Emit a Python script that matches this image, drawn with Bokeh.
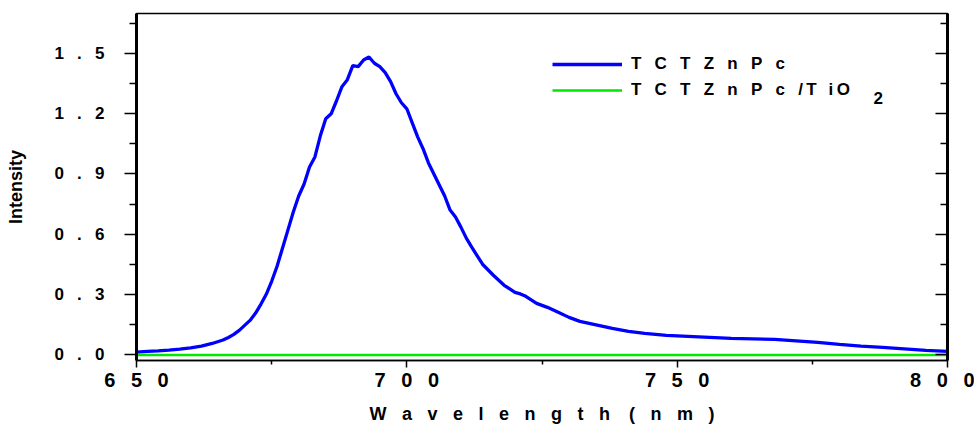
from bokeh.plotting import figure
from bokeh.models import Range1d, LinearAxis, FixedTicker, Legend, LegendItem, Label
from bokeh.core.properties import value
from bokeh.embed import file_html
from bokeh.resources import INLINE

# ---- data ----
wavelength = [650, 652, 654, 656, 658, 660, 662, 664, 666, 667, 668, 669, 670, 671,
              672, 673, 674, 675, 676, 677, 678, 679, 680, 681, 682, 683, 684, 685,
              686, 687, 688, 689, 690, 691, 692, 693, 694, 695, 696, 697, 698, 699,
              700, 701, 702, 703, 704, 705, 706, 707, 708, 709, 710, 711, 712, 714,
              716, 718, 720, 721, 722, 724, 726, 728, 730, 732, 735, 738, 741, 744,
              748, 752, 756, 760, 764, 768, 772, 776, 780, 784, 788, 792, 796, 800]
tctznpc = [0.012, 0.015, 0.018, 0.022, 0.027, 0.033, 0.042, 0.055, 0.072, 0.085, 0.10,
           0.12, 0.145, 0.17, 0.205, 0.25, 0.30, 0.365, 0.44, 0.53, 0.62, 0.71, 0.79,
           0.85, 0.935, 0.985, 1.09, 1.175, 1.20, 1.265, 1.335, 1.37, 1.44, 1.435,
           1.468, 1.483, 1.452, 1.435, 1.405, 1.36, 1.30, 1.255, 1.225, 1.155, 1.085,
           1.026, 0.955, 0.90, 0.845, 0.79, 0.72, 0.685, 0.635, 0.58, 0.535, 0.45,
           0.395, 0.345, 0.31, 0.302, 0.29, 0.255, 0.235, 0.21, 0.185, 0.165, 0.148,
           0.13, 0.115, 0.105, 0.095, 0.09, 0.085, 0.08, 0.078, 0.075, 0.068, 0.06,
           0.05, 0.042, 0.035, 0.028, 0.02, 0.015]

wavelength_tio2 = [650, 660, 670, 680, 690, 700, 710, 720, 730, 740, 750, 760, 770,
                   780, 790, 800]
tctznpc_tio2 = [-0.003, -0.003, -0.002, -0.003, -0.002, -0.002, -0.003, -0.002,
                -0.003, -0.003, -0.002, -0.003, -0.003, -0.002, -0.003, -0.003]

series_names = ["T C T Z n P c", "T C T Z n P c /", "T iO"]
subscript_text = "2"

x_ticks = [650, 700, 750, 800]
x_minor_ticks = [675, 725, 775]
x_tick_labels = ["6 5 0", "7 0 0", "7 5 0", "8 0 0"]
y_ticks = [0.0, 0.3, 0.6, 0.9, 1.2, 1.5]
y_minor_ticks = [0.15, 0.45, 0.75, 1.05, 1.35, 1.65]
y_tick_labels = ["0 . 0", "0 . 3", "0 . 6", "0 . 9", "1 . 2", "1 . 5"]
x_title = "W a v e l e n g t h  ( n m )"
y_title = "Intensity"

FONT = "Liberation Sans"
GAP = "\u2002 "               # ~0.78 em: mimics the letter-spaced labels
GAP_WIDE = "\u2002 \u200a"    # a little wider


def spaced(s, gap=GAP, wide=None):
    parts = s.split("  ")
    parts = [part.replace(" ", gap) for part in parts]
    return (wide or gap).join(parts)


p = figure(width=974, height=432,
           x_range=Range1d(650, 800), y_range=Range1d(-0.03, 1.70),
           output_backend="svg", toolbar_location=None,
           min_border_left=136, min_border_right=27,
           min_border_top=13, min_border_bottom=72)
p.xgrid.visible = False
p.ygrid.visible = False
p.outline_line_color = "black"
p.outline_line_width = 1.5
p.background_fill_color = "white"
p.border_fill_color = "white"

r_blue = p.line(wavelength, tctznpc, line_color="#0000ff", line_width=3.3)
r_green = p.line(wavelength_tio2, tctznpc_tio2, line_color="#00e800", line_width=2.5)

# bottom axis
xa = p.xaxis[0]
xa.ticker = FixedTicker(ticks=x_ticks, minor_ticks=x_minor_ticks)
xa.major_label_overrides = {t: spaced(l) for t, l in zip(x_ticks, x_tick_labels)}
xa.major_label_text_font = FONT
xa.major_label_text_font_style = "bold"
xa.major_label_text_font_size = "20px"
xa.major_label_text_color = "black"
xa.major_label_standoff = 1
xa.axis_line_width = 1.5
xa.axis_line_color = "black"
xa.major_tick_in = 0
xa.major_tick_out = 7
xa.minor_tick_in = 0
xa.minor_tick_out = 4
xa.major_tick_line_width = 1.5
xa.minor_tick_line_width = 1.5
xa.axis_label = spaced(x_title, GAP_WIDE, GAP_WIDE + "\u2009")
xa.axis_label_text_font = FONT
xa.axis_label_text_font_style = "bold"
xa.axis_label_text_font_size = "18px"
xa.axis_label_text_color = "black"
xa.axis_label_standoff = 10

# left axis
ya = p.yaxis[0]
ya.ticker = FixedTicker(ticks=y_ticks, minor_ticks=y_minor_ticks)
ya.major_label_overrides = {t: spaced(l) for t, l in zip(y_ticks, y_tick_labels)}
ya.major_label_text_font = FONT
ya.major_label_text_font_style = "bold"
ya.major_label_text_font_size = "17px"
ya.major_label_text_color = "black"
ya.major_label_standoff = 20
ya.axis_line_width = 3
ya.axis_line_color = "black"
ya.major_tick_in = 0
ya.major_tick_out = 12
ya.minor_tick_in = 0
ya.minor_tick_out = 7
ya.major_tick_line_width = 1.5
ya.minor_tick_line_width = 1.5
ya.axis_label = y_title
ya.axis_label_text_font = FONT
ya.axis_label_text_font_style = "bold"
ya.axis_label_text_font_size = "18px"
ya.axis_label_text_color = "black"
ya.axis_label_standoff = 25

# right axis: ticks inside, no labels
ra = LinearAxis(ticker=FixedTicker(ticks=y_ticks, minor_ticks=y_minor_ticks),
                major_tick_in=12, major_tick_out=0, minor_tick_in=7, minor_tick_out=0,
                major_tick_line_width=1.5, minor_tick_line_width=1.5,
                axis_line_width=3, major_label_text_color=None,
                major_label_standoff=0)
p.add_layout(ra, "right")

label1 = spaced(series_names[0], GAP)
label2 = (spaced(series_names[1], GAP) + "\u2009"
          + series_names[2].replace(" ", "\u2002\u2009").replace("iO", "i\u2009O"))
legend = Legend(items=[LegendItem(label=value(label1), renderers=[r_blue]),
                       LegendItem(label=value(label2), renderers=[r_green])],
                location=(416, 257), glyph_width=70, glyph_height=26, label_height=26,
                label_standoff=9, spacing=0, padding=0, margin=0,
                border_line_color=None, background_fill_alpha=0,
                label_text_font=FONT, label_text_font_style="bold",
                label_text_font_size="17px", label_text_color="black")
p.add_layout(legend)

sub = Label(x=786.3, y=1.28, text=subscript_text, text_font=FONT,
            text_font_style="bold", text_font_size="17px", text_color="black",
            text_baseline="middle", text_align="left")
p.add_layout(sub)

open("out.html", "w").write(file_html(p, INLINE))
